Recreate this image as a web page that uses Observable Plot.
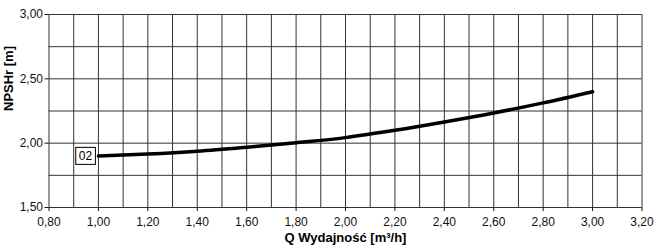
<!DOCTYPE html>
<html>
<head>
<meta charset="utf-8">
<script src="https://cdn.jsdelivr.net/npm/d3@7"></script>
<script src="https://cdn.jsdelivr.net/npm/@observablehq/plot@0.6"></script>
<style>
  html, body { margin: 0; padding: 0; background: #fff; }
  svg { display: block; }
</style>
</head>
<body>
<div id="chart"></div>
<script>
// Curve: Q [m3/h] vs NPSHr [m]
const flowQ = [1.0, 1.2, 1.4, 1.6, 1.8, 2.0, 2.2, 2.4, 2.6, 2.8, 3.0];
const npshr = [1.90, 1.915, 1.937, 1.968, 2.003, 2.043, 2.10, 2.165, 2.235, 2.313, 2.40];
const xTicks = [0.8, 1.0, 1.2, 1.4, 1.6, 1.8, 2.0, 2.2, 2.4, 2.6, 2.8, 3.0, 3.2];
const xGrid = [0.8, 0.9, 1.0, 1.1, 1.2, 1.3, 1.4, 1.5, 1.6, 1.7, 1.8, 1.9, 2.0, 2.1, 2.2, 2.3, 2.4, 2.5, 2.6, 2.7, 2.8, 2.9, 3.0, 3.1, 3.2];
const yTicks = [1.5, 2.0, 2.5, 3.0];
const yGrid = [1.5, 1.75, 2.0, 2.25, 2.5, 2.75, 3.0];
const seriesLabel = "02";
const xLabel = "Q Wydajność [m³/h]";
const yLabel = "NPSHr [m]";

const data = flowQ.map((q, i) => ({q, h: npshr[i]}));
const fmt = d => d.toFixed(2).replace(".", ",");

const chart = Plot.plot({
  width: 655,
  height: 251,
  marginLeft: 48.5,
  marginRight: 13.5,
  marginTop: 14,
  marginBottom: 44,
  style: {fontFamily: "Arial, 'Liberation Sans', sans-serif", fontSize: "12px", color: "#111", background: "#fff"},
  x: {domain: [0.8, 3.2], ticks: xTicks, tickFormat: fmt, tickSize: 4, label: null},
  y: {domain: [1.5, 3.0], ticks: yTicks, tickFormat: fmt, tickSize: 4, label: null},
  marks: [
    Plot.ruleX(xGrid, {stroke: "#333", strokeWidth: 1}),
    Plot.ruleY(yGrid, {stroke: "#333", strokeWidth: 1}),
    Plot.axisX({ticks: xTicks, tickFormat: fmt, tickSize: 4, tickPadding: 6, fontSize: 12, fill: "#111", label: null}),
    Plot.axisY({ticks: yTicks, tickFormat: fmt, tickSize: 4, tickPadding: 2, fontSize: 12, fill: "#111", label: null}),
    Plot.line(data, {x: "q", y: "h", curve: "monotone-x", stroke: "#000", strokeWidth: 3.5}),
    Plot.text([data[0]], {x: "q", y: "h", text: () => seriesLabel, dx: -13, dy: 0, fontSize: 12, fill: "#000", textAnchor: "middle"}),
    Plot.text([xLabel], {frameAnchor: "bottom", dy: 34, fontWeight: "bold", fontSize: 13, fill: "#000"}),
    Plot.text([yLabel], {frameAnchor: "left", dx: -40, rotate: -90, fontWeight: "bold", fontSize: 13, fill: "#000"})
  ]
});
document.getElementById("chart").append(chart);

// Draw a box around the series label using the label's rendered bbox
const texts = chart.querySelectorAll("text");
texts.forEach(t => {
  if (t.textContent === seriesLabel) {
    const bb = t.getBBox();
    const ctm = t.getAttribute("transform");
    const rect = document.createElementNS("http://www.w3.org/2000/svg", "rect");
    rect.setAttribute("x", bb.x - 3);
    rect.setAttribute("y", bb.y - 1.5);
    rect.setAttribute("width", bb.width + 6);
    rect.setAttribute("height", bb.height + 3);
    rect.setAttribute("fill", "#fff");
    rect.setAttribute("stroke", "#000");
    rect.setAttribute("stroke-width", 1);
    if (ctm) rect.setAttribute("transform", ctm);
    t.parentNode.insertBefore(rect, t);
  }
});
</script>
</body>
</html>
